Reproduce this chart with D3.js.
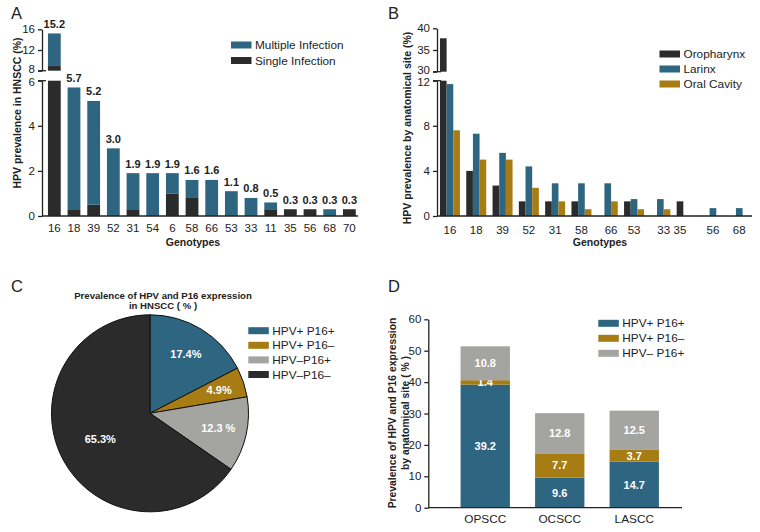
<!DOCTYPE html>
<html>
<head>
<meta charset="utf-8">
<script src="https://cdn.jsdelivr.net/npm/d3@7"></script>
<style>
  body { margin: 0; background: #fff; }
  svg text { font-family: "Liberation Sans", Arial, Helvetica, sans-serif; fill: #222; }
</style>
</head>
<body>
<svg id="fig" width="760" height="532"></svg>
<script>
// ---- data ----
// A: genotype prevalence in HNSCC (%)
var genotypesA = ["16","18","39","52","31","54","6","58","66","53","33","11","35","56","68","70"];
var singleA   = [8.9, 0.3, 0.5, 0, 0.3, 0, 1.0, 0.8, 0, 0, 0, 0.3, 0.3, 0.3, 0, 0.3];
var multipleA = [6.3, 5.4, 4.6, 3.0, 1.6, 1.9, 0.9, 0.8, 1.6, 1.1, 0.8, 0.3, 0, 0, 0.3, 0];
var labelsA   = ["15.2","5.7","5.2","3.0","1.9","1.9","1.9","1.6","1.6","1.1","0.8","0.5","0.3","0.3","0.3","0.3"];
var seriesA   = ["Multiple Infection", "Single Infection"];

// B: prevalence by anatomical site (%)
var genotypesB  = ["16","18","39","52","31","58","66","53","33","35","56","68"];
var seriesB     = ["Oropharynx", "Larinx", "Oral Cavity"];
var oropharynxB = [37.7, 4.0, 2.7, 1.3, 1.3, 1.3, 0, 1.3, 0, 1.3, 0, 0];
var larinxB     = [11.7, 7.3, 5.6, 4.4, 2.9, 2.9, 2.9, 1.5, 1.5, 0, 0.7, 0.7];
var oralB       = [7.6, 5.0, 5.0, 2.5, 1.3, 0.6, 1.3, 0.6, 0.6, 0, 0, 0];

// C: HPV / P16 in HNSCC (%)
var groupsC = ["HPV+ P16+", "HPV+ P16–", "HPV–P16+", "HPV–P16–"];
var valuesC = [17.4, 4.9, 12.3, 65.3];
var labelsC = ["17.4%", "4.9%", "12.3 %", "65.3%"];

// D: HPV / P16 by site (%)
var sitesD  = ["OPSCC", "OCSCC", "LASCC"];
var seriesD = ["HPV+ P16+", "HPV+ P16–", "HPV– P16+"];
var posPosD = [39.2, 9.6, 14.7];
var posNegD = [1.4, 7.7, 3.7];
var negPosD = [10.8, 12.8, 12.5];

var BLUE = "#2e6581", DARK = "#2b2b2b", GOLD = "#a67c13", GREY = "#a4a4a1";
var FONT = 11.5;

var svg = d3.select("#fig");

// draws a bar piece [a,b] across the broken axis segments
function barPiece(g, segs, x0, w, a, b, color) {
  segs.forEach(function(s) {
    var lo = Math.max(a, s.lo), hi = Math.min(b, s.hi);
    if (hi > lo) {
      g.append("rect")
        .attr("x", x0).attr("width", w)
        .attr("y", s.y(hi)).attr("height", s.y(lo) - s.y(hi))
        .attr("fill", color);
    }
  });
}

function brokenAxis(g, ax, segs) {
  segs.forEach(function(s, i) {
    var a = g.append("g")
      .attr("transform", "translate(" + ax + ",0)")
      .call(d3.axisLeft(s.y).tickValues(s.ticks).tickFormat(d3.format("d"))
        .tickSize(4).tickSizeOuter(0).tickPadding(3));
    a.selectAll("text").style("font-size", FONT + "px").style("fill", "#222");
    a.selectAll("line,path").attr("stroke", "#222").attr("stroke-width", 1.3);
    // labels at the break sit a little apart
    var edge = i == 0 ? s.hi : s.lo;
    a.selectAll(".tick").filter(function(d) { return d == edge; })
      .select("text").attr("y", i == 0 ? 1.6 : -1.6);
    // break caps
    var capY = s.y(edge);
    g.append("line").attr("x1", ax - 4).attr("x2", ax + 4)
      .attr("y1", capY).attr("y2", capY)
      .attr("stroke", "#222").attr("stroke-width", 1.3);
  });
}

function legend(g, x, y0, step, names, colors) {
  names.forEach(function(n, i) {
    g.append("rect").attr("x", x).attr("y", y0 + i * step - 3.5)
      .attr("width", 20.5).attr("height", 7).attr("fill", colors[i]);
    g.append("text").attr("x", x + 24).attr("y", y0 + i * step)
      .attr("dominant-baseline", "central")
      .style("font-size", "11.8px").text(n);
  });
}

function panelLetter(t, x, y) {
  svg.append("text").attr("x", x).attr("y", y).style("font-size", "16.5px").text(t);
}

function rotTitle(g, lines, xs, cy, size) {
  lines.forEach(function(l, i) {
    g.append("text")
      .attr("transform", "translate(" + xs[i] + "," + cy + ") rotate(-90)")
      .attr("text-anchor", "middle").attr("dominant-baseline", "central")
      .style("font-size", size + "px").style("font-weight", "bold").text(l);
  });
}

// ================= Panel A =================
(function() {
  var g = svg.append("g");
  var axX = 42;
  var x = d3.scaleBand().domain(genotypesA).range([44.5, 359.2])
    .paddingInner(0.35).paddingOuter(0.175);
  var segs = [
    {y: d3.scaleLinear().domain([0, 6]).range([216, 80.7]), lo: 0, hi: 6, ticks: [0, 2, 4, 6]},
    {y: d3.scaleLinear().domain([8, 16]).range([70.7, 29.3]), lo: 8, hi: 16, ticks: [8, 12, 16]}
  ];
  genotypesA.forEach(function(gt, i) {
    var s = singleA[i], m = multipleA[i];
    barPiece(g, segs, x(gt), x.bandwidth(), 0, s, DARK);
    barPiece(g, segs, x(gt), x.bandwidth(), s, s + m, BLUE);
    var top = s + m, seg = top > 6 ? segs[1] : segs[0];
    g.append("text").attr("x", x(gt) + x.bandwidth() / 2).attr("y", seg.y(top) - 5.5)
      .attr("text-anchor", "middle").style("font-size", "11px").style("font-weight", "bold")
      .text(labelsA[i]);
  });
  brokenAxis(g, axX, segs);
  // x axis
  g.append("line").attr("x1", axX).attr("x2", 358).attr("y1", 216).attr("y2", 216)
    .attr("stroke", "#222").attr("stroke-width", 1.3);
  genotypesA.forEach(function(gt) {
    g.append("text").attr("x", x(gt) + x.bandwidth() / 2).attr("y", 228)
      .attr("text-anchor", "middle").attr("dominant-baseline", "central")
      .style("font-size", FONT + "px").text(gt);
  });
  g.append("text").attr("x", 193).attr("y", 242).attr("text-anchor", "middle")
    .attr("dominant-baseline", "central").style("font-size", "10.5px").style("font-weight", "bold")
    .text("Genotypes");
  rotTitle(g, ["HPV prevalence in HNSCC (%)"], [16.5], 113, 10.5);
  legend(g, 231, 45, 15.5, seriesA, [BLUE, DARK]);
  panelLetter("A", 11, 19);
})();

// ================= Panel B =================
(function() {
  var g = svg.append("g");
  var axX = 437;
  var x = d3.scaleBand().domain(genotypesB).range([436.8, 752.4])
    .paddingInner(0.24).paddingOuter(0.12);
  var xs = d3.scaleBand().domain(seriesB).range([0, x.bandwidth()]);
  var segs = [
    {y: d3.scaleLinear().domain([0, 12]).range([216, 80.7]), lo: 0, hi: 12, ticks: [0, 4, 8, 12]},
    {y: d3.scaleLinear().domain([30, 40]).range([71.7, 28.3]), lo: 30, hi: 40, ticks: [30, 35, 40]}
  ];
  var vals = [oropharynxB, larinxB, oralB], cols = [DARK, BLUE, GOLD];
  genotypesB.forEach(function(gt, i) {
    var centers = [];
    seriesB.forEach(function(s, j) {
      var v = vals[j][i];
      if (v > 0) {
        barPiece(g, segs, x(gt) + xs(s), xs.bandwidth(), 0, v, cols[j]);
        centers.push(x(gt) + xs(s) + xs.bandwidth() / 2);
      }
    });
    g.append("text").attr("x", d3.mean(centers)).attr("y", 229.5)
      .attr("text-anchor", "middle").attr("dominant-baseline", "central")
      .style("font-size", FONT + "px").text(gt);
  });
  brokenAxis(g, axX, segs);
  g.append("line").attr("x1", axX).attr("x2", 752).attr("y1", 216).attr("y2", 216)
    .attr("stroke", "#222").attr("stroke-width", 1.3);
  g.append("text").attr("x", 600).attr("y", 242).attr("text-anchor", "middle")
    .attr("dominant-baseline", "central").style("font-size", "10.5px").style("font-weight", "bold")
    .text("Genotypes");
  rotTitle(g, ["HPV prevalence by anatomical site  (%)"], [406.5], 128, 10.5);
  legend(g, 659.5, 54, 15, seriesB, cols);
  panelLetter("B", 388, 19);
})();

// ================= Panel C =================
(function() {
  var g = svg.append("g");
  var cx = 150, cy = 413.3, r = 98.5;
  var cols = [BLUE, GOLD, GREY, DARK];
  var labelR = [0.7, 0.74, 0.71, 0.57];
  var pie = d3.pie().sort(null)(valuesC);
  var arc = d3.arc().innerRadius(0).outerRadius(r);
  var pg = g.append("g").attr("transform", "translate(" + cx + "," + cy + ")");
  pg.selectAll("path").data(pie).enter().append("path")
    .attr("d", arc).attr("fill", function(d, i) { return cols[i]; })
    .attr("stroke", "#111").attr("stroke-width", 1);
  pg.selectAll("text").data(pie).enter().append("text")
    .attr("transform", function(d, i) {
      var rr = r * labelR[i];
      return "translate(" + d3.arc().innerRadius(rr).outerRadius(rr).centroid(d) + ")";
    })
    .attr("text-anchor", "middle").attr("dominant-baseline", "central")
    .style("font-size", "11px").style("font-weight", "bold").style("fill", "#fff")
    .text(function(d, i) { return labelsC[i]; });
  g.append("text").attr("x", 163).attr("y", 298.5).attr("text-anchor", "middle")
    .style("font-size", "9.6px").style("font-weight", "bold")
    .text("Prevalence of HPV and P16 expression");
  g.append("text").attr("x", 163).attr("y", 309).attr("text-anchor", "middle")
    .style("font-size", "9.6px").style("font-weight", "bold")
    .text("in HNSCC ( % )");
  legend(g, 248.3, 330.7, 14.6, groupsC, cols);
  panelLetter("C", 11, 292);
})();

// ================= Panel D =================
(function() {
  var g = svg.append("g");
  var axX = 428.3;
  var y = d3.scaleLinear().domain([0, 60]).range([507.7, 319.3]);
  var x = d3.scaleBand().domain(sitesD).range([448, 671.5])
    .paddingInner(0.338).paddingOuter(0.169);
  var cols = [BLUE, GOLD, GREY];
  var stacks = [posPosD, posNegD, negPosD];
  sitesD.forEach(function(s, i) {
    var base = 0;
    stacks.forEach(function(arr, j) {
      var v = arr[i];
      g.append("rect").attr("x", x(s)).attr("width", x.bandwidth())
        .attr("y", y(base + v)).attr("height", y(base) - y(base + v))
        .attr("fill", cols[j]);
      g.append("text").attr("x", x(s) + x.bandwidth() / 2).attr("y", y(base + v / 2))
        .attr("text-anchor", "middle").attr("dominant-baseline", "central")
        .style("font-size", "11px").style("font-weight", "bold").style("fill", "#fff")
        .text(v.toFixed(1));
      base += v;
    });
    g.append("text").attr("x", x(s) + x.bandwidth() / 2).attr("y", 518.5)
      .attr("text-anchor", "middle").attr("dominant-baseline", "central")
      .style("font-size", "11.8px").text(s);
  });
  var a = g.append("g").attr("transform", "translate(" + axX + ",0)")
    .call(d3.axisLeft(y).tickValues([0, 10, 20, 30, 40, 50, 60]).tickFormat(d3.format("d"))
      .tickSize(4).tickSizeOuter(0).tickPadding(3));
  a.selectAll("text").style("font-size", FONT + "px").style("fill", "#222");
  a.selectAll("line,path").attr("stroke", "#222").attr("stroke-width", 1.3);
  g.append("line").attr("x1", axX).attr("x2", 682).attr("y1", 507.7).attr("y2", 507.7)
    .attr("stroke", "#222").attr("stroke-width", 1.3);
  rotTitle(g, ["Prevalence of HPV and P16 expression", "by anatomical site ( % )"], [392.5, 405], 413, 10.3);
  legend(g, 598.3, 323.3, 15, seriesD, cols);
  panelLetter("D", 388, 292);
})();
</script>
</body>
</html>
